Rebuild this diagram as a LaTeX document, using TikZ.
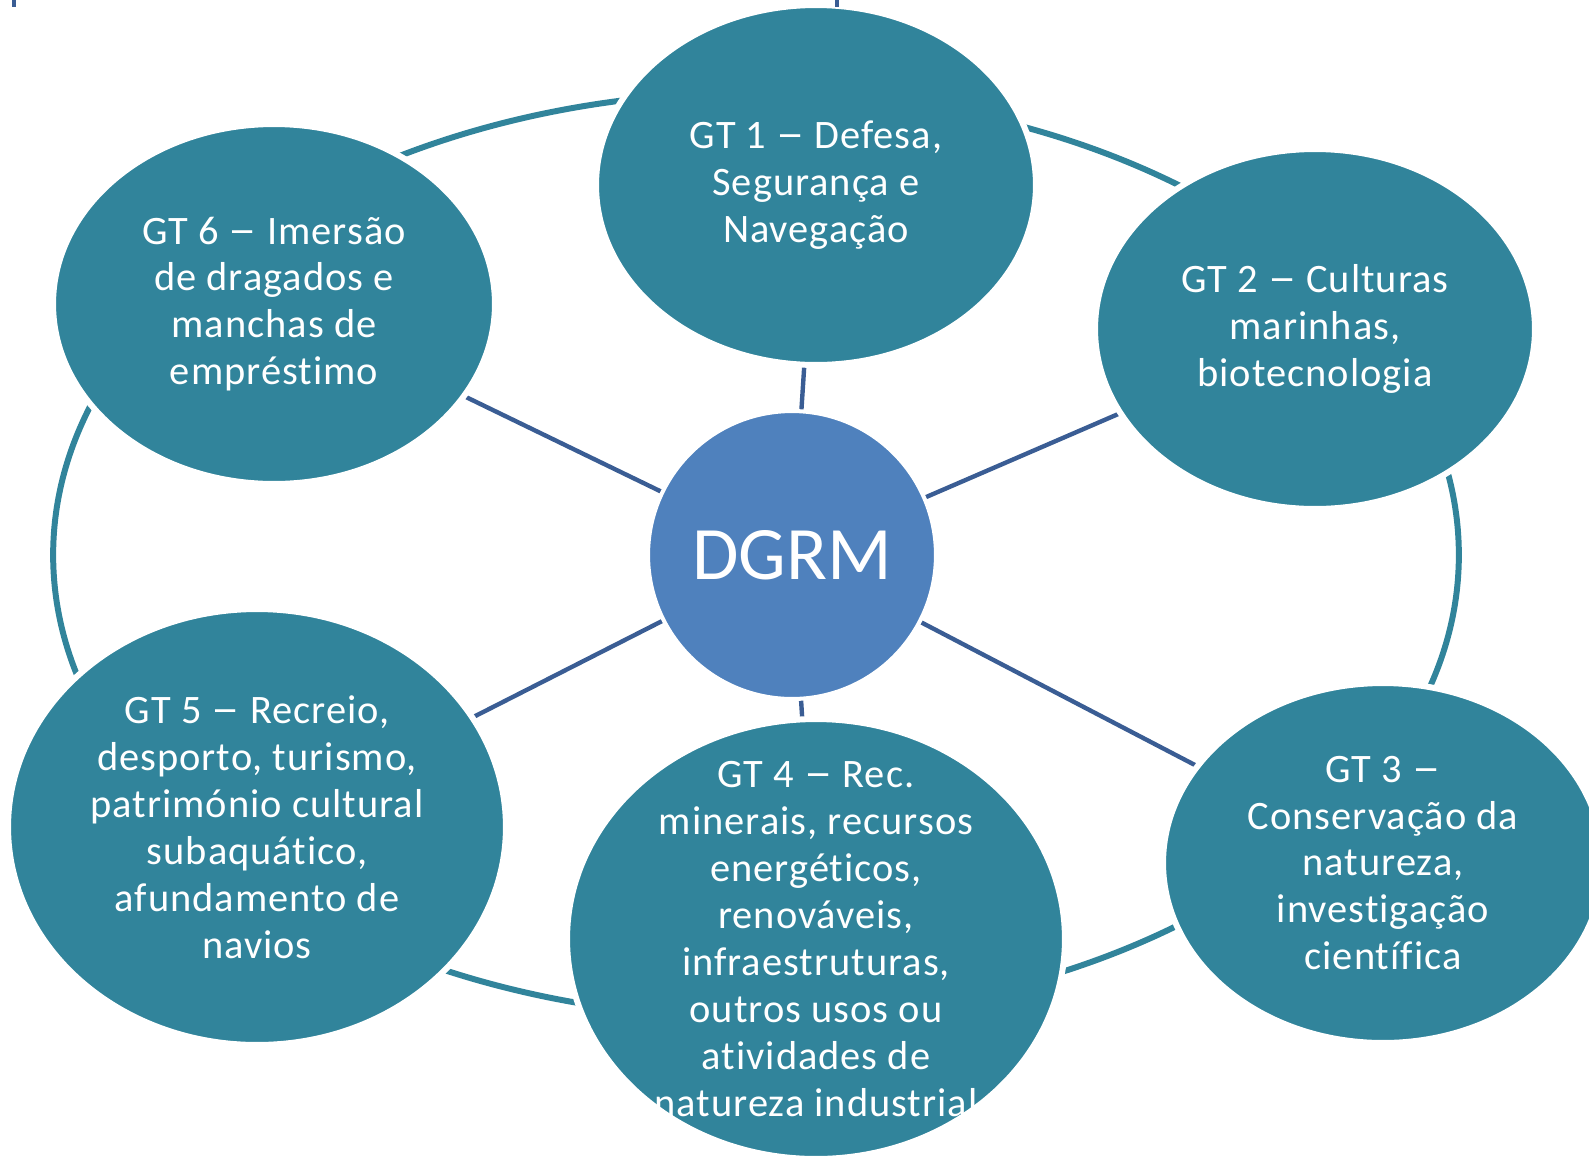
\documentclass[tikz,border=0pt]{standalone}
\usepackage{fontspec}
\setmainfont{Carlito}[Ligatures=NoCommon]
\usetikzlibrary{shapes.geometric, backgrounds}

\definecolor{gtteal}{HTML}{31849B}
\definecolor{hubblue}{HTML}{4F81BD}
\definecolor{spokeblue}{HTML}{3A5D94}

\newcommand{\gtdash}{\scalebox{1.4}[1.1]{–}}

\begin{document}
\begin{tikzpicture}[
  x=0.02cm, y=-0.02cm,
  gtshape/.style={ellipse, fill=gtteal, draw=white, line width=3.4pt,
                  inner sep=0pt, outer sep=0pt,
                  minimum width=8.80cm, minimum height=7.20cm},
  gttext/.style={text=white, align=center,
                 font=\addfontfeatures{LetterSpace=2.5}\fontsize{23}{26.7}\selectfont},
  hub/.style={circle, fill=hubblue, draw=white, line width=2.3pt,
              inner sep=0pt, outer sep=0pt, minimum size=5.76cm,
              text=white, font=\fontsize{43}{50}\selectfont},
  spoke/.style={draw=spokeblue, line width=2.5pt},
  ring/.style={draw=gtteal, line width=3.4pt},
]
\useasboundingbox (0,0) rectangle (1589,1157);

% centre
\node[hub] (dgrm) at (792,555) {DGRM};

% working groups
\node[gtshape] (gt1) at (816,185) {};
\node[gtshape] (gt2) at (1315,329) {};
\node[gtshape] (gt3) at (1383,863) {};
\node[gtshape, minimum width=9.96cm, minimum height=8.80cm] (gt4) at (816,939) {};
\node[gtshape, minimum width=9.96cm, minimum height=8.72cm] (gt5) at (257,827) {};
\node[gtshape, minimum width=8.84cm] (gt6) at (274,304) {};

\node[gttext] (gt1text) at (gt1) {GT 1 \gtdash{} Defesa,\\Segurança e\\Navegação};
\node[gttext] (gt2text) at (gt2) {GT 2 \gtdash{} Culturas\\marinhas,\\biotecnologia};
\node[gttext] (gt3text) at (gt3) {GT 3 \gtdash\\Conservação da\\natureza,\\investigação\\científica};
\node[gttext] (gt4text) at (gt4) {GT 4 \gtdash{} Rec.\\minerais, recursos\\energéticos,\\renováveis,\\infraestruturas,\\outros usos ou\\atividades de\\natureza industrial};
\node[gttext] (gt5text) at (gt5) {GT 5 \gtdash{} Recreio,\\desporto, turismo,\\património cultural\\subaquático,\\afundamento de\\navios};
\node[gttext] (gt6text) at (gt6) {GT 6 \gtdash{} Imersão\\de dragados e\\manchas de\\empréstimo};

\begin{scope}[on background layer]
  \draw[ring] (756,555) ellipse [x radius=14.06cm, y radius=9.26cm];
  \foreach \g in {gt1,gt2,gt3,gt4,gt5,gt6}
    \draw[spoke] (dgrm) -- (\g);
\end{scope}

% marks at the top edge
\fill[spokeblue] (12,0) rectangle (16,7);
\fill[spokeblue] (835,0) rectangle (839,7);
\end{tikzpicture}
\end{document}
